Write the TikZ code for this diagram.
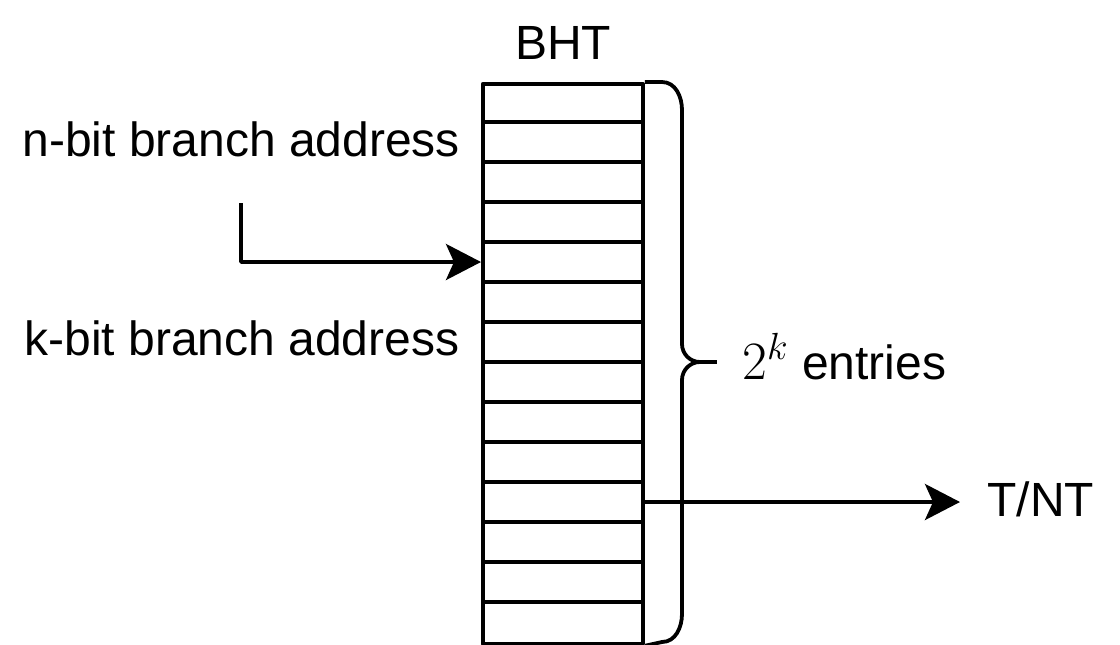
\RequirePackage{fix-cm}
\documentclass[tikz,border=0pt]{standalone}
\usepackage{fontspec}
\setmainfont{Liberation Sans}
\usetikzlibrary{arrows.meta}
\tikzset{
	line/.style={line width=1.9pt, line join=round},
	arr/.style={line, -{Stealth[length=17.5pt,width=18pt,inset=4pt]}},
	lbl/.style={inner sep=0pt, font=\fontsize{24}{28}\selectfont},
}
\begin{document}
\begin{tikzpicture}[x=0.5pt,y=-0.5pt]
		\useasboundingbox (0,0) rectangle (1120,644);
		
		% table
		\node (bht) [line, draw, inner sep=0pt, minimum width=80pt, minimum height=280pt, anchor=north west] at (481,82) {};
		\foreach \i in {1,...,13}
			\draw [line] (481,{82+40*\i}) -- (641,{82+40*\i});
		\node [lbl, anchor=base] (title) at (563,59) {BHT};
		
		% addresses
		\node [lbl, anchor=base west] (nbit) at (22,156) {n-bit branch address};
		\node [lbl, anchor=base west] (kbit) at (24,355) {k-bit branch address};
		\coordinate (start) at (241,203);
		\coordinate (in) at (481,262);
		\draw [arr] (start) |- (in);
		
		% brace
		\draw [line] (bht.north east) -- (662,82) to[out=0,in=90] (682,110) -- (682,344) to[out=-90,in=180] (700,362)
			to[out=180,in=90] (682,380) -- (682,614) to[out=-90,in=0] (662,642) -- (bht.south east);
		\coordinate (tip) at (700,362);
		\draw [line] (tip) -- (717,362);
		\node [lbl, anchor=base west] (entries) at (742,379) {{\fontsize{27}{30}\selectfont$2^k$} entries};
		
		% output
		\node [lbl, anchor=base west] (tnt) at (987,516) {T/NT};
		\coordinate (out) at (641,502);
		\coordinate (outend) at (960,502);
		\draw [arr] (out) -- (outend);
\end{tikzpicture}
\end{document}
